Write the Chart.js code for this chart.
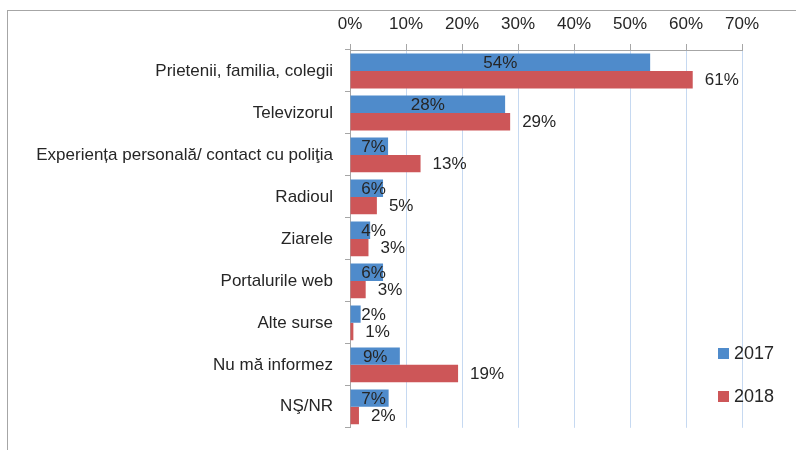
<!DOCTYPE html>
<html>
<head>
<meta charset="utf-8">
<script src="https://cdn.jsdelivr.net/npm/chart.js@4.4.1/dist/chart.umd.min.js"></script>
<style>
	html, body {margin: 0; padding: 0; background: #fff;}
</style>
</head>
<body>
<canvas id="BarChart" width="796" height="450"></canvas>
<script>
var Categories = ['Prietenii, familia, colegii', 'Televizorul', 'Experiența personală/ contact cu poliţia', 'Radioul', 'Ziarele', 'Portalurile web', 'Alte surse', 'Nu mă informez', 'NŞ/NR'];
var Years = ['2017', '2018'];
var Values2017 = [53.6, 27.7, 6.8, 5.9, 3.6, 5.9, 1.9, 8.9, 6.9];
var Values2018 = [61.2, 28.6, 12.6, 4.8, 3.3, 2.8, 0.6, 19.3, 1.6];
var TickValues = [0, 10, 20, 30, 40, 50, 60, 70];
var Colors = ['#4f8bcb', '#cd5658'];

var FontFam = '"Liberation Sans", Arial, sans-serif';
var TextColor = '#262626';
var AxisGray = '#a6a6a6';

Chart.defaults.font.family = FontFam;
Chart.defaults.color = TextColor;


// outer frame (goes past the right and bottom edge)
var framePlugin = {
	id: 'frame',
	beforeDraw: function(chart){
		var ctx = chart.ctx;
		ctx.save();
		ctx.strokeStyle = AxisGray;
		ctx.lineWidth = 1;
		ctx.strokeRect(7.5, 10.5, 900, 600);
		ctx.restore();
	}
};

// value labels: 2017 centered in bar, 2018 outside end
var valuePlugin = {
	id: 'valueLabels',
	afterDatasetsDraw: function(chart){
		var ctx = chart.ctx;
		ctx.save();
		ctx.font = '17px ' + FontFam;
		ctx.fillStyle = TextColor;
		ctx.textBaseline = 'middle';
		chart.data.datasets.forEach(function(ds, i){
			var meta = chart.getDatasetMeta(i);
			meta.data.forEach(function(bar, j){
				var txt = Math.round(ds.data[j]) + '%';
				var x;
				if(i == 0){
					ctx.textAlign = 'center';
					x = Math.max((bar.x + bar.base) / 2, bar.base + 23);
				}else{
					ctx.textAlign = 'left';
					x = bar.x + 12;
				}
				ctx.fillText(txt, x, bar.y + 1);
			});
		});
		ctx.restore();
	}
};

// legend at lower right
var legendPlugin = {
	id: 'sideLegend',
	afterDraw: function(chart){
		var ctx = chart.ctx;
		var x0 = chart.chartArea.right - 24;
		var y0 = 353;
		ctx.save();
		ctx.font = '18px ' + FontFam;
		ctx.textBaseline = 'middle';
		ctx.textAlign = 'left';
		chart.data.datasets.forEach(function(ds, i){
			var y = y0 + i * 43;
			ctx.fillStyle = ds.backgroundColor;
			ctx.fillRect(x0, y - 5, 11, 11);
			ctx.fillStyle = TextColor;
			ctx.fillText(ds.label, x0 + 16, y + 1);
		});
		ctx.restore();
	}
};


new Chart(document.getElementById('BarChart'), {
	type: 'bar',
	data: {
		labels: Categories,
		datasets: [{
			label: Years[0],
			data: Values2017,
			backgroundColor: Colors[0],
			categoryPercentage: 0.83,
			barPercentage: 1.0
		},{
			label: Years[1],
			data: Values2018,
			backgroundColor: Colors[1],
			categoryPercentage: 0.83,
			barPercentage: 1.0
		}]
	},
	options: {
		indexAxis: 'y',
		responsive: false,
		animation: false,
		layout: {
			padding: {left: 0, top: 0, right: 54, bottom: 10}
		},
		plugins: {
			legend: {display: false},
			tooltip: {enabled: false}
		},
		scales: {
			x: {
				position: 'top',
				min: TickValues[0],
				max: TickValues[TickValues.length - 1],
				afterBuildTicks: function(scale){
					scale.ticks = TickValues.map(function(v){ return {value: v}; });
				},
				afterFit: function(scale){ scale.height = 50; },
				ticks: {
					callback: function(v){ return v + '%'; },
					font: {size: 17},
					padding: 9,
					color: TextColor
				},
				grid: {
					color: '#c6d9f1',
					tickColor: AxisGray,
					tickLength: 6
				},
				border: {color: AxisGray}
			},
			y: {
				afterFit: function(scale){ scale.width = 350; },
				ticks: {
					font: {size: 17},
					padding: 12,
					color: TextColor
				},
				grid: {
					drawOnChartArea: false,
					tickColor: AxisGray,
					tickLength: 5
				},
				border: {color: AxisGray}
			}
		}
	},
	plugins: [framePlugin, valuePlugin, legendPlugin]
});
</script>
</body>
</html>
